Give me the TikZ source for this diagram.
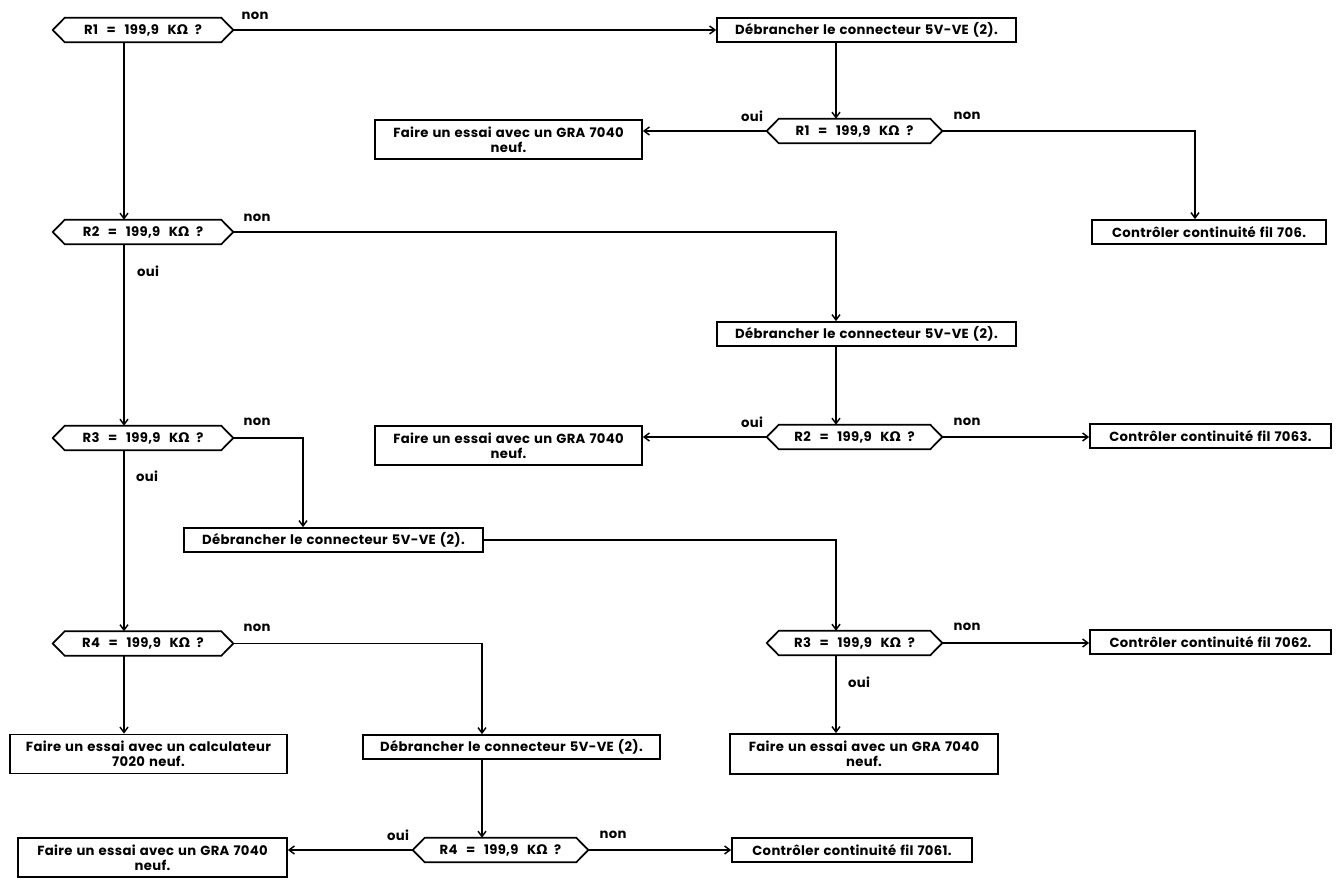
\documentclass[tikz,border=0pt]{standalone}
\usepackage{fontspec}
\setmainfont{Poppins}[LetterSpace=2.5, WordSpace=1.3]
\newfontfamily\omfont{DejaVu Sans}
\usetikzlibrary{arrows.meta,calc}
\newcommand\Om{{\omfont\bfseries Ω}}
\newcommand\Req[1]{R#1\hspace{6.5pt}=\hspace{6.5pt}199,9\hspace{6.5pt}K\Om\hspace{5pt}?}
\begin{document}
\begin{tikzpicture}[x=0.75pt,y=-0.75pt,
  every node/.style={font=\fontsize{9.9pt}{11.25pt}\selectfont\bfseries, inner sep=0pt},
  box/.style={draw, line width=1.3pt, align=center, minimum height=18pt},
  tallbox/.style={box, minimum height=29.25pt},
  decision/.style={minimum height=18pt},
  hexline/.style={line width=1.3pt},
  conn/.style={line width=1.1pt},
  arr/.style={conn, -{Straight Barb[length=4pt,width=6pt]}},
  lbl/.style={}]
\fill[white] (0,0) rectangle (1342,884);
\path[use as bounding box] (0,0) rectangle (1342,884);

% column coordinates
\coordinate (cL) at (124,0);
\coordinate (cR) at (836,0);
\coordinate (c303) at (303,0);
\coordinate (c482) at (482,0);
\coordinate (c1195) at (1195,0);

% decisions
\node[decision, minimum width=135pt] (d1) at (143,30) {\Req{1}};
\node[decision, minimum width=131.25pt] (d1r) at (854.5,131) {\Req{1}};
\node[decision, minimum width=135pt] (d2) at (143,232) {\Req{2}};
\node[decision, minimum width=131.25pt] (d2r) at (854.5,437) {\Req{2}};
\node[decision, minimum width=135pt] (d3) at (143,438) {\Req{3}};
\node[decision, minimum width=131.25pt] (d3r) at (854.5,643) {\Req{3}};
\node[decision, minimum width=135pt] (d4) at (143,643.5) {\Req{4}};
\node[decision, minimum width=131.25pt] (d5) at (500.5,850) {\Req{4}};

\foreach \n in {d1,d1r,d2,d2r,d3,d3r,d4,d5}
  \draw[hexline] (\n.west) -- ([xshift=9pt]\n.north west) -- ([xshift=-9pt]\n.north east)
     -- (\n.east) -- ([xshift=-9pt]\n.south east) -- ([xshift=9pt]\n.south west) -- cycle;

% boxes
\node[box, minimum width=224.25pt] (b1) at (866.5,30) {Débrancher le connecteur 5V-VE (2).};
\node[tallbox, minimum width=200.25pt] (g1) at (508.5,139.5) {Faire un essai avec un GRA 7040\\neuf.};
\node[box, minimum width=175.5pt] (k706) at (1209,232) {Contrôler continuité fil 706.};
\node[box, minimum width=224.25pt] (b2) at (866.5,334) {Débrancher le connecteur 5V-VE (2).};
\node[tallbox, minimum width=200.25pt] (g2) at (508.5,445.5) {Faire un essai avec un GRA 7040\\neuf.};
\node[box, minimum width=180.75pt] (k7063) at (1210.5,436) {Contrôler continuité fil 7063.};
\node[box, minimum width=224.25pt] (b3) at (333.5,540) {Débrancher le connecteur 5V-VE (2).};
\node[box, minimum width=180.75pt] (k7062) at (1210.5,642) {Contrôler continuité fil 7062.};
\node[tallbox, minimum width=201pt, minimum height=30pt] (g3) at (864,754) {Faire un essai avec un GRA 7040\\neuf.};
\node[tallbox, minimum width=207.75pt] (cal) at (148.5,754) {Faire un essai avec un calculateur\\7020 neuf.};
\node[box, minimum width=222.75pt] (b4) at (511.5,747) {Débrancher le connecteur 5V-VE (2).};
\node[tallbox, minimum width=201.75pt] (g4) at (152.5,857.5) {Faire un essai avec un GRA 7040\\neuf.};
\node[box, minimum width=180pt] (k7061) at (852,850) {Contrôler continuité fil 7061.};

% labels
\node[lbl] (l1n) at (255,16) {non};
\node[lbl] (l2n) at (257,218) {non};
\node[lbl] (l2o) at (148,271) {oui};
\node[lbl] (l3n) at (257,422) {non};
\node[lbl] (l3o) at (147,476) {oui};
\node[lbl] (l4n) at (257,628) {non};
\node[lbl] (r1o) at (752,116) {oui};
\node[lbl] (r1n) at (967,116) {non};
\node[lbl] (r2o) at (752,422) {oui};
\node[lbl] (r2n) at (967,422) {non};
\node[lbl] (r3n) at (967,627) {non};
\node[lbl] (r3o) at (859,682) {oui};
\node[lbl] (r4o) at (398,835) {oui};
\node[lbl] (r4n) at (613,835) {non};

% connectors
\draw[arr] (d1.east) -- (d1.east -| b1.west);
\draw[arr] (b1.south -| cR) -- (d1r.north -| cR);
\draw[arr] (d1r.west) -- (d1r.west -| g1.east);
\draw[arr] (d1r.east) -| (k706.north -| c1195);
\draw[arr] (d1.south -| cL) -- (d2.north -| cL);
\draw[arr] (d2.east) -| (b2.north -| cR);
\draw[arr] (b2.south -| cR) -- (d2r.north -| cR);
\draw[arr] (d2r.west) -- (d2r.west -| g2.east);
\draw[arr] (d2r.east) -- (d2r.east -| k7063.west);
\draw[arr] (d2.south -| cL) -- (d3.north -| cL);
\draw[arr] (d3.east) -| (b3.north -| c303);
\draw[arr] (b3.east) -| (d3r.north -| cR);
\draw[arr] (d3r.east) -- (d3r.east -| k7062.west);
\draw[arr] (d3r.south -| cR) -- (g3.north -| cR);
\draw[arr] (d3.south -| cL) -- (d4.north -| cL);
\draw[arr] (d4.south -| cL) -- (cal.north -| cL);
\draw[arr] (d4.east) -| (b4.north -| c482);
\draw[arr] (b4.south -| c482) -- (d5.north -| c482);
\draw[arr] (d5.west) -- (d5.west -| g4.east);
\draw[arr] (d5.east) -- (d5.east -| k7061.west);
\end{tikzpicture}
\end{document}
